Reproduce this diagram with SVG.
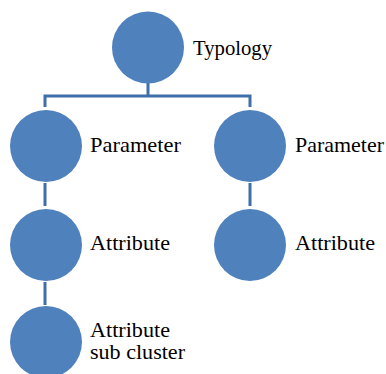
<svg xmlns="http://www.w3.org/2000/svg" width="386" height="374" viewBox="0 0 386 374">
<style>
.n{fill:#4F81BD}
.c{stroke:#3F6FAA;stroke-width:3;fill:none}
text{font-family:"Liberation Serif","DejaVu Serif",serif;font-size:21px;fill:#000}
</style>
<rect width="386" height="374" fill="#fff"/>
<g id="connectors">
<path class="c" d="M148 83V96M45 96H250M45 94.5V107M250 94.5V107"/>
<path class="c" d="M45 183V206M250 183V206M45 282V305"/>
</g>
<g id="typology"><circle class="n" cx="148" cy="47.5" r="36"/><text x="193" y="54.5" textLength="79" lengthAdjust="spacingAndGlyphs">Typology</text></g>
<g id="param-left"><circle class="n" cx="46" cy="146" r="36"/><text x="90" y="152" textLength="91" lengthAdjust="spacingAndGlyphs">Parameter</text></g>
<g id="param-right"><circle class="n" cx="250" cy="146" r="36"/><text x="295" y="152" textLength="89" lengthAdjust="spacingAndGlyphs">Parameter</text></g>
<g id="attr-left"><circle class="n" cx="46" cy="245" r="36"/><text x="90" y="250" textLength="80" lengthAdjust="spacingAndGlyphs">Attribute</text></g>
<g id="attr-right"><circle class="n" cx="250" cy="245" r="36"/><text x="295" y="250" textLength="80" lengthAdjust="spacingAndGlyphs">Attribute</text></g>
<g id="attr-sub"><circle class="n" cx="46" cy="342" r="36"/><text x="90" y="337" textLength="80" lengthAdjust="spacingAndGlyphs">Attribute</text><text x="90" y="359" textLength="95" lengthAdjust="spacingAndGlyphs">sub cluster</text></g>
</svg>
